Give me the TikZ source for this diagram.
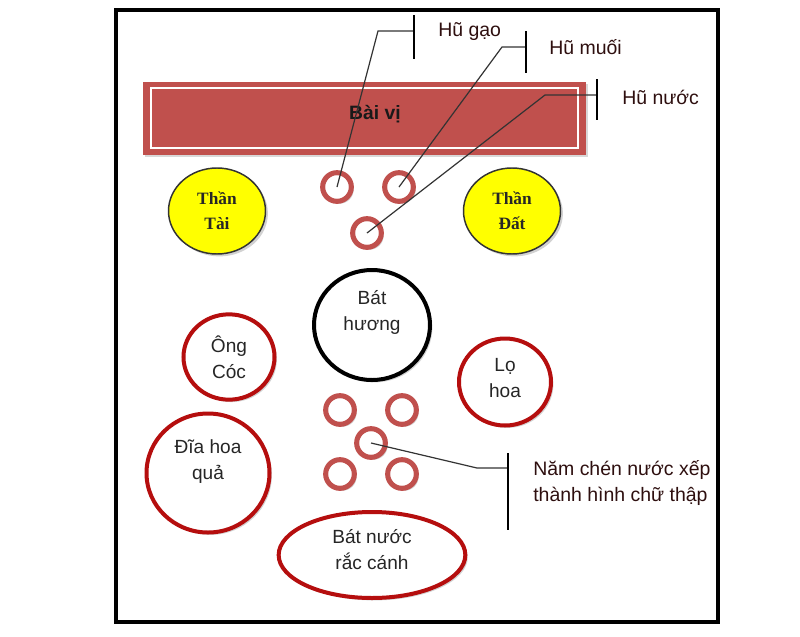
\documentclass[tikz,border=0pt]{standalone}
\usepackage{fontspec}
\setmainfont{Liberation Sans}
\newfontfamily\thanfont{Liberation Serif}
\usetikzlibrary{shapes.geometric,shadows}
\definecolor{bvred}{HTML}{C0504D}
\definecolor{dred}{HTML}{B50E0E}
\definecolor{ylw}{HTML}{FFFF00}
\definecolor{lbl}{HTML}{2E0F0F}
\begin{document}
\begin{tikzpicture}[x=0.75pt,y=-0.75pt,
  shad/.style={drop shadow={shadow xshift=1.8pt,shadow yshift=-1.8pt,opacity=0.35,fill=gray}},
  cup/.style={circle,draw=bvred,line width=3.8pt,fill=white,minimum size=21.5pt,inner sep=0pt,shad},
  bigred/.style={ellipse,draw=dred,line width=3pt,fill=white,inner sep=0pt,shad},
  god/.style={ellipse,draw=black!80,line width=1.1pt,fill=ylw,inner sep=0pt,minimum width=72.75pt,minimum height=64.5pt,
     align=center,font=\thanfont\bfseries\fontsize{13}{19}\selectfont,text=black!85,shad},
  txt/.style={align=center,font=\fontsize{14.3}{19.5}\selectfont,text=black!85,inner sep=0pt},
  lab/.style={anchor=west,align=left,font=\fontsize{14.6}{19.5}\selectfont,text=lbl,inner sep=0pt},
  leader/.style={draw=black!80,line width=0.9pt},
  bar/.style={draw=black,line width=1.4pt}]
\useasboundingbox (0,0) rectangle (800,636);
\fill[white] (0,0) rectangle (800,636);
% frame
\draw[line width=3.2pt] (116,10) rectangle (718,622);
% Bai vi
\node[draw=none,fill=bvred,minimum width=332.25pt,minimum height=54.75pt,inner sep=0pt,drop shadow={shadow xshift=1.5pt,shadow yshift=-1.5pt,opacity=0.3}] (baivi) at (364.5,118.5) {};
\draw[white,line width=1.6pt] (151,88) rectangle (578,148);
\node[font=\bfseries\fontsize{14.5}{16}\selectfont,text=black!90] (baivitxt) at (375,114) {Bài vị};
% gods
\node[god] (thantai) at (217,211) {Thần\\Tài};
\node[god] (thandat) at (512,211) {Thần\\Đất};
% three jars
\node[cup] (cup1) at (337,187) {};
\node[cup] (cup2) at (399,187) {};
\node[cup] (cup3) at (367,233) {};
% Bat huong
\node[ellipse,draw=black,line width=3pt,fill=white,minimum width=87pt,minimum height=82.5pt,inner sep=0pt,shad] (bathuong) at (372,325) {};
\node[txt] (bathuongtxt) at (372,312) {Bát\\hương};
% Ong Coc
\node[bigred,minimum width=68.25pt,minimum height=64pt] (ongcoc) at (229,357) {};
\node[txt] (ongcoctxt) at (229,357) {Ông\\Cóc};
% Lo hoa
\node[bigred,minimum width=69pt,minimum height=65.25pt] (lohoa) at (505,382) {};
\node[txt] (lohoatxt) at (505,378) {Lọ\\hoa};
% Dia hoa qua
\node[bigred,minimum width=92.25pt,minimum height=89.25pt] (diahoa) at (208,473) {};
\node[txt] (diahoatxt) at (208,462) {Đĩa hoa\\quả};
% five cups
\node[cup] (c1) at (340,410) {};
\node[cup] (c2) at (402,410) {};
\node[cup] (c3) at (371,443) {};
\node[cup] (c4) at (340,474) {};
\node[cup] (c5) at (402,474) {};
% Bat nuoc
\node[bigred,minimum width=140pt,minimum height=64.5pt] (batnuoc) at (372,555) {};
\node[txt] (batnuoctxt) at (372,550) {Bát nước\\rắc cánh};
% leaders: Hu gao
\coordinate (g1) at (378,31);
\coordinate (g2) at (414,31);
\coordinate (g2a) at (414,15);
\coordinate (g2b) at (414,59);
\draw[leader] (cup1.center) -- (g1) -- (g2);
\draw[bar] (g2a) -- (g2b);
\node[lab] (hugao) at (438,32) {Hũ gạo};
% Hu muoi
\coordinate (m1) at (502,47);
\coordinate (m2) at (526,47);
\coordinate (m2a) at (526,31);
\coordinate (m2b) at (526,73);
\draw[leader] (cup2.center) -- (m1) -- (m2);
\draw[bar] (m2a) -- (m2b);
\node[lab] (humuoi) at (549,47) {Hũ muối};
% Hu nuoc
\coordinate (n1) at (545,95);
\coordinate (n2) at (597,95);
\coordinate (n2a) at (597,79);
\coordinate (n2b) at (597,120);
\draw[leader] (cup3.center) -- (n1) -- (n2);
\draw[bar] (n2a) -- (n2b);
\node[lab] (hunuoc) at (622,97) {Hũ nước};
% Nam chen
\coordinate (k1) at (477,468);
\coordinate (k2) at (508,468);
\coordinate (k2a) at (508,453);
\coordinate (k2b) at (508,530);
\draw[leader] (c3.center) -- (k1) -- (k2);
\draw[bar] (k2a) -- (k2b);
\node[lab] (namchen) at (533,483) {Năm chén nước xếp\\thành hình chữ thập};
\end{tikzpicture}
\end{document}
